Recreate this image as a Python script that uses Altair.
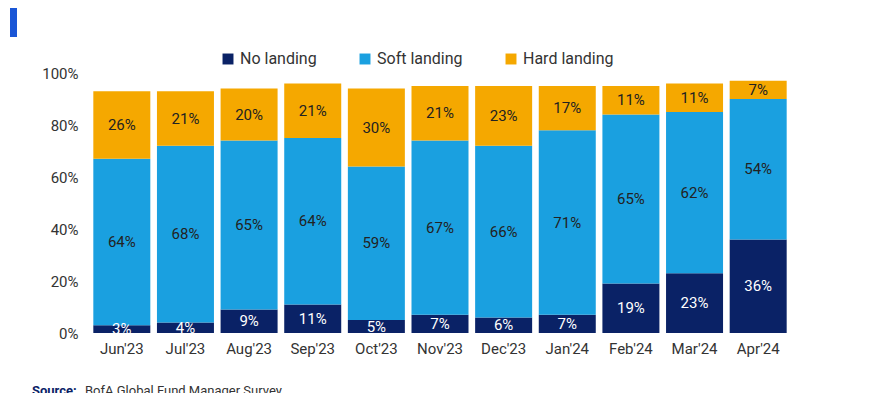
import pandas as pd
import altair as alt

months = ["Jun'23", "Jul'23", "Aug'23", "Sep'23", "Oct'23", "Nov'23",
          "Dec'23", "Jan'24", "Feb'24", "Mar'24", "Apr'24"]
no_landing = [3, 4, 9, 11, 5, 7, 6, 7, 19, 23, 36]
soft_landing = [64, 68, 65, 64, 59, 67, 66, 71, 65, 62, 54]
hard_landing = [26, 21, 20, 21, 30, 21, 23, 17, 11, 11, 7]
series = ["No landing", "Soft landing", "Hard landing"]
colors = ["#0a2266", "#1aa0e0", "#f5a800"]

rows = []
for i, m in enumerate(months):
    for k, vals in enumerate([no_landing, soft_landing, hard_landing]):
        rows.append({"month": m, "series": series[k], "value": vals[i], "order": k})
df = pd.DataFrame(rows)

font = "Roboto"
base = alt.Chart(df).encode(
    x=alt.X("month:N", sort=months, title=None,
            axis=alt.Axis(labelAngle=0, ticks=False, domain=False, labelFontSize=15,
                          labelColor="#333", labelPadding=8, labelFont=font)),
)

bars = base.mark_bar(size=57).encode(
    y=alt.Y("value:Q", stack="zero", title=None,
            scale=alt.Scale(domain=[0, 100]),
            axis=alt.Axis(values=list(range(0, 101, 10)), labelExpr="datum.value + '%'",
                          labelOverlap=False, grid=False, ticks=False, domain=False,
                          labelFontSize=15, labelColor="#333", labelPadding=12, labelFont=font)),
    color=alt.Color("series:N", sort=series, scale=alt.Scale(domain=series, range=colors),
                    legend=alt.Legend(orient="none", legendX=130, legendY=-22, direction="horizontal",
                                      title=None, symbolType="square", symbolSize=120,
                                      labelFontSize=16, labelFont=font, labelColor="#333",
                                      columnPadding=40, symbolStrokeWidth=0)),
    order=alt.Order("order:Q"),
)

labels = base.mark_text(fontSize=15, font=font).transform_stack(
    stack="value", groupby=["month"], sort=[alt.SortField("order")], as_=["y0", "y1"]
).transform_calculate(
    mid="(datum.y0 + datum.y1) / 2", lab="datum.value + '%'"
).encode(
    y="mid:Q",
    text="lab:N",
    color=alt.condition(alt.datum.series == "No landing", alt.value("white"), alt.value("#222")),
)

src = alt.Chart(pd.DataFrame({"t": ["BofA Global Fund Manager Survey"]}))
src_b = src.mark_text(align="left", fontSize=13, font=font, fontWeight="bold", color="#0a2266").encode(
    x=alt.value(-58), y=alt.value(318), text=alt.value("Source:"))
src_t = src.mark_text(align="left", fontSize=13, font=font, color="#333").encode(
    x=alt.value(-5), y=alt.value(318), text="t:N")
bar_l = src.mark_rect(color="#1a56d6").encode(
    x=alt.value(-80), x2=alt.value(-73), y=alt.value(-73), y2=alt.value(-36))

chart = alt.layer(bars, labels, src_b, src_t, bar_l).properties(
    width=700, height=260,
    title=alt.TitleParams("What is the most likely outcome for the global economy in the next 12 months?",
                          anchor="start", dx=-64, offset=44, fontSize=19, fontWeight="normal",
                          font=font, color="#333"),
    autosize=alt.AutoSizeParams(type="none"),
    padding={"left": 82, "top": 65, "right": 70, "bottom": 60},
).configure_view(stroke=None).configure_scale(bandPaddingInner=0.1)

chart.save("out.html", embed_options={"renderer": "svg", "actions": False})
